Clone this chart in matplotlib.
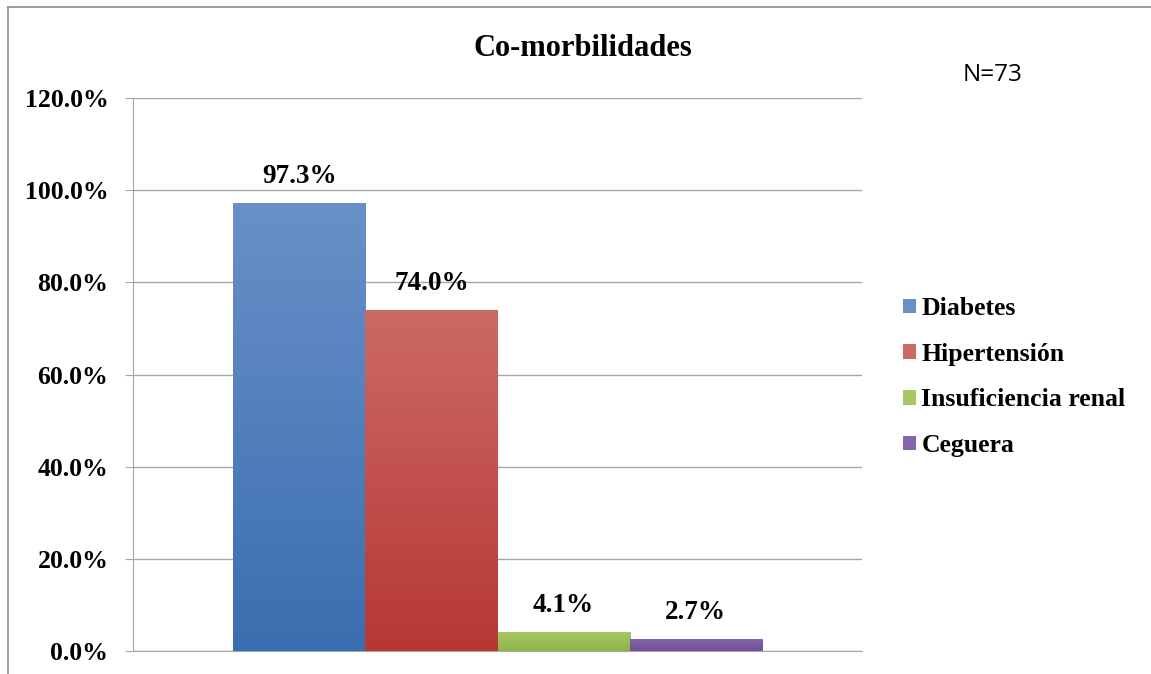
import numpy as np
import matplotlib
matplotlib.use("Agg")
import matplotlib.pyplot as plt
from matplotlib.colors import LinearSegmentedColormap
from matplotlib.lines import Line2D
from matplotlib.patches import Patch

categories = ["Diabetes", "Hipertensión", "Insuficiencia renal", "Ceguera"]
values = [97.3, 74.0, 4.1, 2.7]
yticks = [0, 20, 40, 60, 80, 100, 120]

# (top, bottom) shade of each bar
shades = [("#6990c8", "#3b6eb0"),
          ("#cc6a66", "#b73733"),
          ("#a6c764", "#8db447"),
          ("#8566ac", "#6f4f98")]

serif = "Liberation Serif"

fig = plt.figure(figsize=(11.51, 6.74), dpi=100)
ax = fig.add_axes([133 / 1151, 1 - 651 / 674, 729 / 1151, 553 / 674])

x = np.arange(len(values))
bars = ax.bar(x, values, width=1.0, color="none", edgecolor="none", zorder=3)

# vertical gradient inside each bar
grad = np.linspace(0, 1, 256).reshape(-1, 1)
for bar, (top, bottom) in zip(bars, shades):
    cmap = LinearSegmentedColormap.from_list("g", [bottom, top])
    x0, w, h = bar.get_x(), bar.get_width(), bar.get_height()
    im = ax.imshow(grad, cmap=cmap, aspect="auto", origin="lower",
                   extent=(x0, x0 + w, 0, h), zorder=3)
    im.set_clip_path(bar)

for xi, v in zip(x, values):
    ax.text(xi, v + 3.0, f"{v:.1f}%", ha="center", va="bottom",
            fontsize=19.5, fontweight="bold", family=serif)

ax.set_xlim(-0.5 - 0.76, len(values) - 0.5 + 0.76)
ax.set_ylim(0, 120)
ax.set_yticks(yticks)
ax.set_yticklabels([f"{t:.1f}%" for t in yticks], fontsize=18.5,
                   fontweight="bold", family=serif)
ax.set_xticks([])
ax.yaxis.grid(True, color="#a6a6a6", linewidth=1)
ax.set_axisbelow(True)
ax.tick_params(axis="y", length=5.8, color="#a6a6a6", pad=12)
for side in ("top", "right"):
    ax.spines[side].set_visible(False)
ax.spines["left"].set_color("#a6a6a6")
ax.spines["bottom"].set_color("#a6a6a6")

fig.text(583 / 1151, 1 - 48 / 674, "Co-morbilidades", ha="center", va="center",
         fontsize=22, fontweight="bold", family=serif)
fig.text(993 / 1151, 1 - 75 / 674, "N=73", ha="center", va="center",
         fontsize=17.5, family="Open Sans")

handles = [Patch(facecolor=c[0], edgecolor="none") for c in shades]
fig.legend(handles, categories, loc="upper left",
           bbox_to_anchor=(893 / 1151, 1 - 287 / 674), frameon=False,
           prop={"family": serif, "weight": "bold", "size": 18.5},
           handlelength=0.5, handleheight=0.5, handletextpad=0.2,
           labelspacing=0.88, borderaxespad=0)

# outer frame lines along top and left
fig.add_artist(Line2D([8 / 1151, 1], [1 - 7 / 674] * 2, color="#8c8c8c", lw=1.2))
fig.add_artist(Line2D([8 / 1151] * 2, [0, 1 - 7 / 674], color="#8c8c8c", lw=1.2))

fig.savefig("out.png", dpi=100)
